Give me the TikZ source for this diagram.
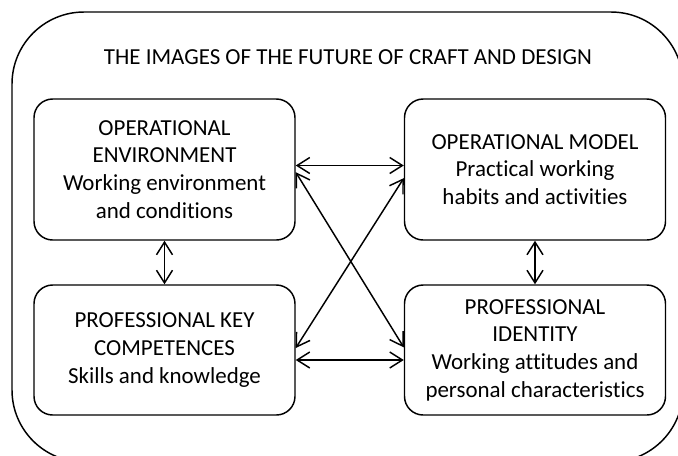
\documentclass[tikz,border=0pt]{standalone}
\usepackage{fontspec}
\setmainfont{Carlito}[Ligatures=NoCommon]
\usepackage{tikz}
\usetikzlibrary{arrows.meta,positioning}

\begin{document}
\begin{tikzpicture}[x=0.75pt,y=-0.75pt,
  font=\fontsize{17.2}{20.8}\selectfont,
  frame/.style={draw,line width=1.1pt,rounded corners=54pt},
  area/.style={draw,line width=1.1pt,rounded corners=14pt,align=center,
    minimum width=195.75pt,inner sep=2pt},
  link/.style={{Straight Barb[length=9.5pt,width=12pt]}-{Straight Barb[length=9.5pt,width=12pt]},
    line width=1.1pt}]
  \useasboundingbox (0,0) rectangle (678,455);
  \clip (0,0) rectangle (678,455);

  % Outer frame and heading.
  \draw[frame] (12,12) rectangle (683,462);
  \node (title) at (348,57) {THE IMAGES OF THE FUTURE OF CRAFT AND DESIGN};

  % The four areas.
  \node[area,minimum height=105.75pt] (openv) at (164.5,169.5)
    {OPERATIONAL\\ENVIRONMENT\\Working environment\\and conditions};
  \node[area,minimum height=105.75pt] (opmodel) at (535,169.5)
    {OPERATIONAL MODEL\\Practical working\\habits and activities};
  \node[area,minimum height=97.5pt] (keycomp) at (164.5,350)
    {PROFESSIONAL KEY\\COMPETENCES\\Skills and knowledge};
  \node[area,minimum height=97.5pt] (identity) at (535,350)
    {PROFESSIONAL\\IDENTITY\\Working attitudes and\\personal characteristics};

  % Links between the areas.
  \draw[link] ([yshift=3pt]openv.east) -- ([yshift=3pt]opmodel.west);
  \draw[link] ([yshift=-7.5pt]keycomp.east) -- ([yshift=-7.5pt]identity.west);
  \draw[link] (openv.south) -- (keycomp.north);
  \draw[link] (opmodel.south) -- (identity.north);
  \draw[link] ([yshift=-2pt]openv.east) -- ([yshift=2pt]identity.west);
  \draw[link] ([yshift=1.5pt]keycomp.east) -- ([yshift=-6.5pt]opmodel.west);
\end{tikzpicture}
\end{document}
